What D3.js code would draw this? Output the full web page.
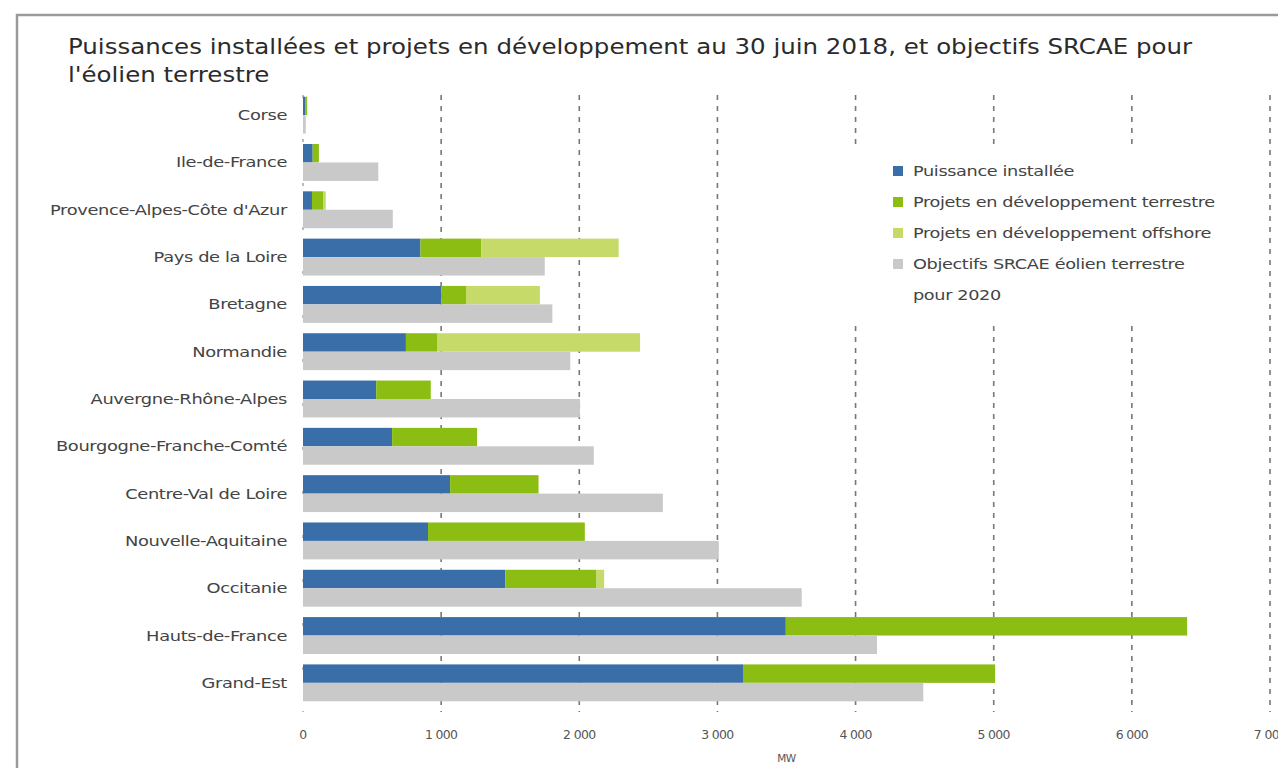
<!DOCTYPE html>
<html>
<head>
<meta charset="utf-8">
<script src="https://cdn.jsdelivr.net/npm/d3@7"></script>
<style>
  body { margin: 0; background: #fff; }
  svg { display: block; }
</style>
</head>
<body>
<svg id="chart" width="1278" height="768"></svg>
<script>
// regions, top to bottom
var regions = ["Corse", "Ile-de-France", "Provence-Alpes-Côte d'Azur", "Pays de la Loire",
  "Bretagne", "Normandie", "Auvergne-Rhône-Alpes", "Bourgogne-Franche-Comté",
  "Centre-Val de Loire", "Nouvelle-Aquitaine", "Occitanie", "Hauts-de-France", "Grand-Est"];

// MW
var installee = [15, 70, 65, 850, 1000, 745, 530, 645, 1065, 905, 1465, 3495, 3185];
var terrestre = [15, 45, 80, 440, 180, 225, 395, 615, 640, 1135, 660, 2905, 1825];
var offshore = [0, 0, 20, 995, 535, 1470, 0, 0, 0, 0, 55, 0, 0];
var objectifs = [20, 545, 650, 1750, 1805, 1935, 2005, 2105, 2605, 3010, 3610, 4155, 4490];

var xTicks = [0, 1000, 2000, 3000, 4000, 5000, 6000, 7000];
var series = ["Puissance installée", "Projets en développement terrestre",
  "Projets en développement offshore", "Objectifs SRCAE éolien terrestre"];
var colors = ["#3a6ea8", "#8bbd12", "#c6da6a", "#c9c9c9"];

var svg = d3.select("#chart");
var font = "'DejaVu Sans', sans-serif";

// the source picture is wide-set, so text gets stretched sideways
function stretch(sel, k) {
  sel.each(function() {
    var w = this.getComputedTextLength();
    d3.select(this).attr("textLength", w * k).attr("lengthAdjust", "spacingAndGlyphs");
  });
}

// frame
svg.append("path")
    .attr("d", "M17,768 V15 H1278")
    .attr("fill", "none")
    .attr("stroke", "#9a9a9a")
    .attr("stroke-width", 2.5);

// title
var t1 = svg.append("text")
    .attr("x", 68).attr("y", 54)
    .attr("font-family", font)
    .attr("font-size", 20.5)
    .attr("fill", "#2b2b2b")
    .text("Puissances installées et projets en développement au 30 juin 2018, et objectifs SRCAE pour");
var t2 = svg.append("text")
    .attr("x", 68).attr("y", 82)
    .attr("font-family", font)
    .attr("font-size", 20.5)
    .attr("fill", "#2b2b2b")
    .text("l'éolien terrestre");
var tk = 1124 / t1.node().getComputedTextLength();
stretch(t1, tk);
stretch(t2, tk);

var x = d3.scaleLinear().domain([0, 7000]).range([303, 1270]);
var y = d3.scaleBand().domain(regions).range([91.5, 706.5]).paddingInner(0.22).paddingOuter(0.11);

// dashed grid
svg.append("g").selectAll("line")
    .data(xTicks)
    .join("line")
    .attr("x1", d => x(d)).attr("x2", d => x(d))
    .attr("y1", 95).attr("y2", 712)
    .attr("stroke", "#777")
    .attr("stroke-width", d => d === 0 ? 1 : 1.6)
    .attr("stroke-dasharray", d => d === 0 ? "3,41" : "5,6");

// bars
var rows = regions.map((r, i) => ({
  region: r,
  parts: [[0, installee[i]],
    [installee[i], installee[i] + terrestre[i]],
    [installee[i] + terrestre[i], installee[i] + terrestre[i] + offshore[i]]],
  obj: objectifs[i]
}));

var bh = y.bandwidth() / 2;
var g = svg.append("g");
rows.forEach(function(row) {
  g.selectAll(null)
    .data(row.parts)
    .join("rect")
    .attr("x", d => x(d[0]))
    .attr("y", y(row.region))
    .attr("width", d => x(d[1]) - x(d[0]))
    .attr("height", bh)
    .attr("fill", (d, i) => colors[i]);
  g.append("rect")
    .attr("x", x(0))
    .attr("y", y(row.region) + bh)
    .attr("width", x(row.obj) - x(0))
    .attr("height", bh)
    .attr("fill", colors[3]);
});

// category labels
svg.append("g").selectAll("text")
    .data(regions)
    .join("text")
    .attr("x", 287)
    .attr("y", d => y(d) + y.bandwidth() / 2 + 5)
    .attr("text-anchor", "end")
    .attr("font-family", font)
    .attr("font-size", 14.5)
    .attr("letter-spacing", -0.3)
    .attr("fill", "#444")
    .text(d => d)
    .call(stretch, 1.23);

// x tick labels
svg.append("g").selectAll("text")
    .data(xTicks)
    .join("text")
    .attr("x", d => x(d))
    .attr("y", 739)
    .attr("text-anchor", "middle")
    .attr("font-family", font)
    .attr("font-size", 11.5)
    .attr("letter-spacing", -0.6)
    .attr("fill", "#555")
    .text(d => d3.format(",")(d).replace(",", " "))
    .call(stretch, 1.08);

svg.append("text")
    .attr("x", x(3500)).attr("y", 762)
    .attr("text-anchor", "middle")
    .attr("font-family", font)
    .attr("font-size", 10.5)
    .attr("letter-spacing", -0.5)
    .attr("fill", "#555")
    .text("MW");

// legend
var lg = svg.append("g");
lg.append("rect")
    .attr("x", 850).attr("y", 150).attr("width", 380).attr("height", 170)
    .attr("fill", "#fff");
series.forEach(function(s, i) {
  lg.append("rect")
    .attr("x", 893).attr("y", 166 + i * 31)
    .attr("width", 10).attr("height", 10)
    .attr("fill", colors[i]);
  lg.append("text")
    .attr("x", 913).attr("y", 176 + i * 31)
    .attr("font-family", font)
    .attr("font-size", 14.5)
    .attr("letter-spacing", -0.3)
    .attr("fill", "#444")
    .text(s)
    .call(stretch, 1.22);
});
lg.append("text")
    .attr("x", 913).attr("y", 176 + 4 * 31)
    .attr("font-family", font)
    .attr("font-size", 14.5)
    .attr("letter-spacing", -0.3)
    .attr("fill", "#444")
    .text("pour 2020")
    .call(stretch, 1.22);
</script>
</body>
</html>
